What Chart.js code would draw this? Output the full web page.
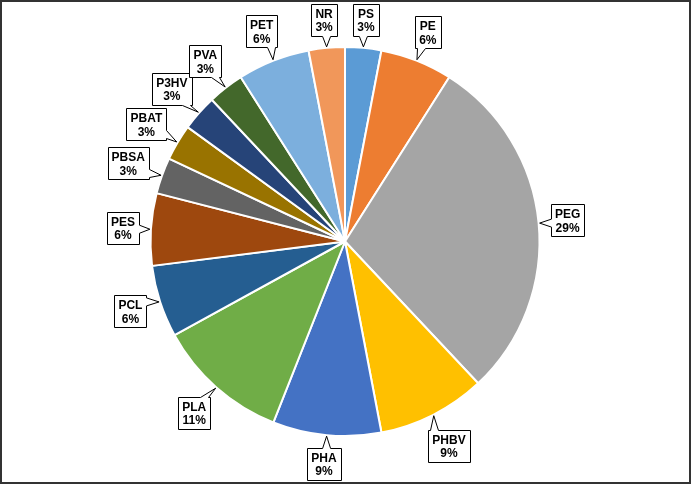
<!DOCTYPE html>
<html>
<head>
<meta charset="utf-8">
<script src="https://cdn.jsdelivr.net/npm/chart.js@4/dist/chart.umd.min.js"></script>
<style>
    html, body { margin: 0; padding: 0; background: #fff; }
    #wrap { width: 691px; height: 484px; position: relative; }
</style>
</head>
<body>
<div id="wrap"><canvas id="pie-chart" width="691" height="484"></canvas></div>
<script>
const labels = ['PS', 'PE', 'PEG', 'PHBV', 'PHA', 'PLA', 'PCL', 'PES', 'PBSA', 'PBAT', 'P3HV', 'PVA', 'PET', 'NR'];
const shares = [3, 6, 29, 9, 9, 11, 6, 6, 3, 3, 3, 3, 6, 3];
const colors = ['#5b9bd5', '#ed7d31', '#a5a5a5', '#ffc000', '#4472c4', '#70ad47', '#255e91',
    '#9e480e', '#636363', '#997300', '#264478', '#43682b', '#7cafdd', '#f1975a'];

const FONT = 'bold 12px "Liberation Sans", Arial, sans-serif';
const LINE_H = 13.5;
const GAP = 11;

// callout boxes with a pointer wedge, placed outside each slice
const calloutPlugin = {
    id: 'callouts',
    afterDatasetsDraw(chart) {
        const c = chart.ctx;
        const meta = chart.getDatasetMeta(0);
        const total = shares.reduce((a, b) => a + b, 0);
        c.save();
        c.font = FONT;
        c.textAlign = 'center';
        c.textBaseline = 'alphabetic';
        meta.data.forEach((arc, i) => {
            const mid = (arc.startAngle + arc.endAngle) / 2;
            const ux = Math.cos(mid), uy = Math.sin(mid);
            const r = arc.outerRadius;
            const pct = Math.round(shares[i] / total * 100) + '%';
            const w = Math.max(c.measureText(labels[i]).width, c.measureText(pct).width) + 8;
            const h = 32;
            const hw = w / 2, hh = h / 2;
            const d = r + GAP + Math.abs(ux) * hw + Math.abs(uy) * hh;
            const cx = arc.x + ux * d, cy = arc.y + uy * d;
            const x0 = Math.round(cx - hw) + 0.5, x1 = Math.round(cx + hw) + 0.5;
            const y0 = Math.round(cy - hh) + 0.5, y1 = Math.round(cy + hh) + 0.5;
            const tx = arc.x + ux * (r + 1), ty = arc.y + uy * (r + 1);

            // which side faces the tip
            const ndx = (tx - cx) / hw, ndy = (ty - cy) / hh;
            let side;
            if (Math.abs(ndx) > Math.abs(ndy)) side = ndx > 0 ? 'right' : 'left';
            else side = ndy > 0 ? 'bottom' : 'top';
            const k = 4;
            const clamp = (v, a, b) => Math.min(Math.max(v, a), b);

            c.beginPath();
            c.moveTo(x0, y0);
            if (side === 'top') {
                const b = clamp(tx, x0 + 2 + k, x1 - 2 - k);
                c.lineTo(b - k, y0); c.lineTo(tx, ty); c.lineTo(b + k, y0);
            }
            c.lineTo(x1, y0);
            if (side === 'right') {
                const b = clamp(ty, y0 + 2 + k, y1 - 2 - k);
                c.lineTo(x1, b - k); c.lineTo(tx, ty); c.lineTo(x1, b + k);
            }
            c.lineTo(x1, y1);
            if (side === 'bottom') {
                const b = clamp(tx, x0 + 2 + k, x1 - 2 - k);
                c.lineTo(b + k, y1); c.lineTo(tx, ty); c.lineTo(b - k, y1);
            }
            c.lineTo(x0, y1);
            if (side === 'left') {
                const b = clamp(ty, y0 + 2 + k, y1 - 2 - k);
                c.lineTo(x0, b + k); c.lineTo(tx, ty); c.lineTo(x0, b - k);
            }
            c.closePath();
            c.fillStyle = '#ffffff';
            c.fill();
            c.lineWidth = 1;
            c.strokeStyle = '#000000';
            c.stroke();

            c.fillStyle = '#000000';
            c.fillText(labels[i], cx, cy - 2);
            c.fillText(pct, cx, cy - 2 + LINE_H);
        });
        c.restore();
    },
    afterDraw(chart) {
        const c = chart.ctx;
        c.save();
        c.strokeStyle = '#333333';
        c.lineWidth = 2;
        c.strokeRect(1, 1, chart.width - 2, chart.height - 2);
        c.restore();
    }
};

const pieChart = new Chart(document.getElementById('pie-chart'), {
    type: 'pie',
    data: {
        labels: labels,
        datasets: [{
            data: shares,
            backgroundColor: colors,
            borderColor: '#ffffff',
            borderWidth: 2
        }]
    },
    options: {
        responsive: false,
        animation: false,
        layout: {
            padding: { top: 46, bottom: 47, left: 100, right: 101 }
        },
        plugins: {
            legend: { display: false },
            tooltip: { enabled: false },
            title: { display: false }
        }
    },
    plugins: [calloutPlugin]
});
</script>
</body>
</html>
